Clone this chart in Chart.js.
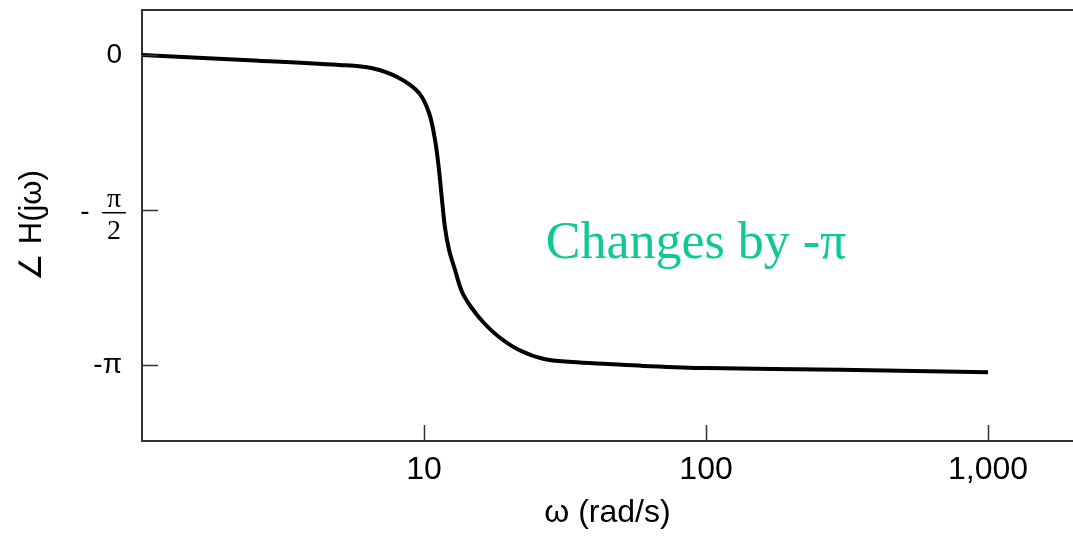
<!DOCTYPE html>
<html>
<head>
<meta charset="utf-8">
<script src="https://cdn.jsdelivr.net/npm/chart.js@4.4.0/dist/chart.umd.min.js"></script>
<style>
  html, body { margin: 0; padding: 0; background: #fff; }
  #wrap { width: 1073px; height: 536px; position: relative; }
</style>
</head>
<body>
<div id="wrap"><canvas id="phaseChart"></canvas></div>
<script>
// Phase response (omega in rad/s, phase in radians)
const omega = [1, 2.3, 5.0, 6.56, 8.15, 9.6, 10.42, 10.94, 11.3, 11.58, 11.87, 12.27, 12.88, 13.64, 14.68, 16.19, 18.45, 21.73, 26.64, 33.49, 45, 60, 100, 300, 1000];
const phase = [0, -0.05, -0.101, -0.135, -0.233, -0.385, -0.588, -0.861, -1.165, -1.469, -1.753, -1.976, -2.179, -2.402, -2.554, -2.706, -2.858, -2.99, -3.081, -3.111, -3.132, -3.151, -3.173, -3.19, -3.214];

// Axis ticks
const xTicks = [10, 100, 1000];
const xTickLabels = ['10', '100', '1,000'];
const yTicks = [0, -Math.PI / 2, -Math.PI];
const yTickLabels = ['0', '- π/2', '-π'];

const annotationText = 'Changes by -π';

const points = omega.map((w, i) => ({ x: w, y: phase[i] }));

// Inner tick marks, the open top border, the fraction label and the note
const extrasPlugin = {
    id: 'extras',
    afterDraw(chart) {
        const ctx = chart.ctx;
        const xs = chart.scales.x;
        const ys = chart.scales.y;
        const area = chart.chartArea;
        ctx.save();

        // top border
        ctx.strokeStyle = '#333';
        ctx.lineWidth = 2;
        ctx.beginPath();
        ctx.moveTo(area.left, area.top);
        ctx.lineTo(chart.width, area.top);
        ctx.stroke();

        // tick marks pointing inwards
        ctx.lineWidth = 1.5;
        ctx.beginPath();
        xTicks.forEach(v => {
            const px = Math.round(xs.getPixelForValue(v)) + 0.5;
            ctx.moveTo(px, area.bottom);
            ctx.lineTo(px, area.bottom - 16);
        });
        yTicks.forEach(v => {
            const py = Math.round(ys.getPixelForValue(v)) + 0.5;
            ctx.moveTo(area.left, py);
            ctx.lineTo(area.left + 16, py);
        });
        ctx.stroke();

        // "- π/2" drawn as a stacked fraction
        const fy = ys.getPixelForValue(-Math.PI / 2);
        const fx = area.left - 28;
        ctx.fillStyle = '#000';
        ctx.textAlign = 'center';
        ctx.font = '28px "Liberation Serif", "DejaVu Serif", serif';
        ctx.textBaseline = 'alphabetic';
        ctx.fillText('π', fx, fy - 3);
        ctx.fillText('2', fx, fy + 29);
        ctx.fillRect(fx - 12, fy + 2, 24, 1.5);
        ctx.font = '28px "Liberation Sans", Arial, sans-serif';
        ctx.fillText('-', fx - 29, fy + 10);

        // annotation
        ctx.fillStyle = '#10c896';
        ctx.font = '52px "Liberation Serif", "DejaVu Serif", serif';
        ctx.textAlign = 'left';
        ctx.fillText(annotationText, xs.getPixelForValue(27.0), ys.getPixelForValue(-2.06));
        ctx.restore();
    }
};

new Chart(document.getElementById('phaseChart'), {
    type: 'line',
    data: {
        datasets: [{
            label: '∠ H(jω)',
            data: points,
            borderColor: '#000',
            borderWidth: 4,
            pointRadius: 0,
            fill: false,
            tension: 0.35
        }]
    },
    options: {
        responsive: true,
        maintainAspectRatio: false,
        animation: false,
        layout: { padding: { top: 10, right: 0, left: 0, bottom: 0 } },
        plugins: {
            legend: { display: false },
            tooltip: { enabled: false }
        },
        scales: {
            x: {
                type: 'logarithmic',
                min: 1,
                max: 2000,
                afterBuildTicks: scale => {
                    scale.ticks = xTicks.map(v => ({ value: v }));
                },
                afterFit: scale => {
                    scale.height = 95;
                    scale.paddingLeft = 0;
                    scale.paddingRight = 0;
                },
                grid: { display: false, drawTicks: false },
                border: { display: true, color: '#333', width: 2 },
                ticks: {
                    padding: 10,
                    color: '#000',
                    font: { family: '"Liberation Sans", Arial, sans-serif', size: 32 },
                    maxRotation: 0,
                    autoSkip: false,
                    callback: function(value) {
                        const i = xTicks.indexOf(value);
                        return i >= 0 ? xTickLabels[i] : '';
                    }
                },
                title: {
                    display: true,
                    text: 'ω (rad/s)',
                    color: '#000',
                    font: { family: '"Liberation Sans", Arial, sans-serif', size: 32 },
                    padding: { top: 0, bottom: 4 }
                }
            },
            y: {
                min: -3.912,
                max: 0.456,
                afterBuildTicks: scale => {
                    scale.ticks = yTicks.map(v => ({ value: v }));
                },
                afterFit: scale => {
                    scale.width = 142;
                    scale.paddingTop = 0;
                    scale.paddingBottom = 0;
                },
                grid: { display: false, drawTicks: false },
                border: { display: true, color: '#333', width: 2 },
                ticks: {
                    padding: 20,
                    color: '#000',
                    font: { family: '"Liberation Sans", Arial, sans-serif', size: 28 },
                    autoSkip: false,
                    callback: function(value) {
                        const i = yTicks.findIndex(t => Math.abs(t - value) < 1e-9);
                        // the -π/2 label is drawn as a fraction by the plugin
                        if (i === 1) return '';
                        return i >= 0 ? yTickLabels[i] : '';
                    }
                },
                title: {
                    display: true,
                    text: '∠ H(jω)',
                    color: '#000',
                    font: { family: '"Liberation Sans", Arial, sans-serif', size: 31 },
                    padding: { top: 14, bottom: 0 }
                }
            }
        }
    },
    plugins: [extrasPlugin]
});
</script>
</body>
</html>
